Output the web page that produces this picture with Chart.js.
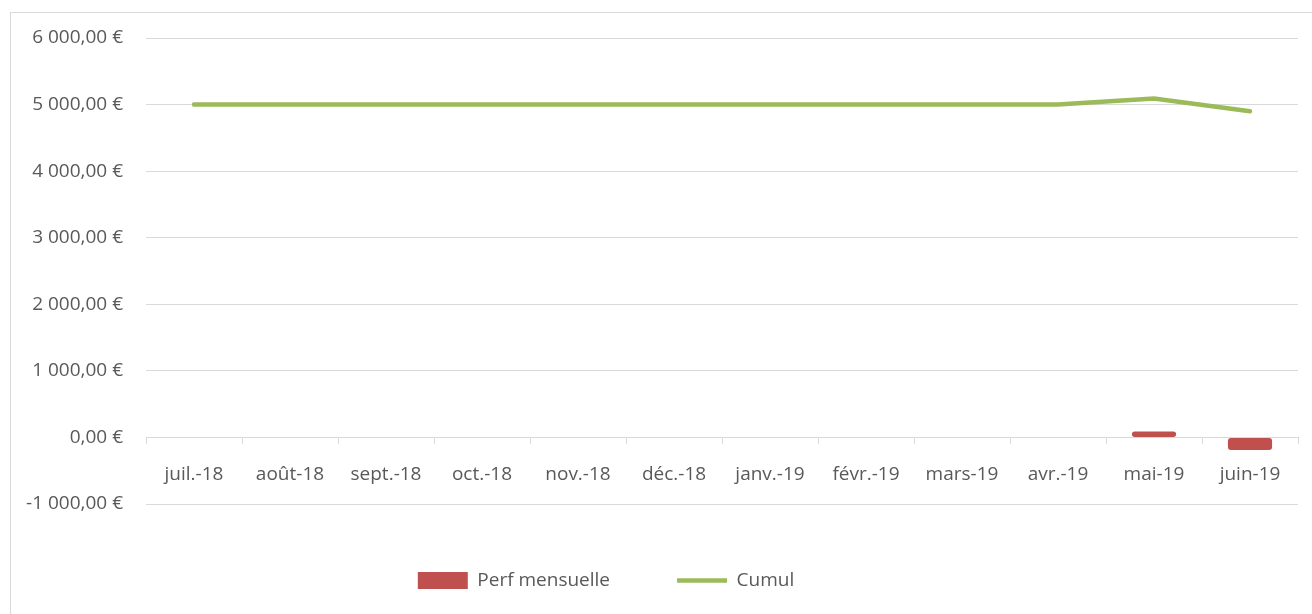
<!DOCTYPE html>
<html>
<head>
<meta charset="utf-8">
<script src="https://cdn.jsdelivr.net/npm/chart.js@4/dist/chart.umd.min.js"></script>
<style>
  html, body { margin: 0; padding: 0; background: #fff; overflow: hidden; }
  #frame { position: absolute; left: 10px; top: 12px; width: 1320px; height: 620px; border: 1px solid #D9D9D9; box-sizing: border-box; }
  #wrap { position: absolute; left: 0; top: 0; width: 1312px; height: 614px; }
</style>
</head>
<body>
<div id="frame"></div>
<div id="wrap"><canvas id="chart"></canvas></div>
<script>
const months = ["juil.-18", "août-18", "sept.-18", "oct.-18", "nov.-18", "déc.-18",
                "janv.-19", "févr.-19", "mars-19", "avr.-19", "mai-19", "juin-19"];
const perfMensuelle = [0, 0, 0, 0, 0, 0, 0, 0, 0, 0, 90, -190];
const cumul = [5000, 5000, 5000, 5000, 5000, 5000, 5000, 5000, 5000, 5000, 5090, 4900];
const yMin = -1000, yMax = 6000, yStep = 1000;

function euro(v) {
    const neg = v < 0;
    const parts = Math.abs(v).toFixed(2).split(".");
    const ent = parts[0].replace(/\B(?=(\d{3})+(?!\d))/g, " ");
    return (neg ? "-" : "") + ent + "," + parts[1] + " €";
}

const txt = "#595959";
const grid = "#D9D9D9";
Chart.defaults.font.family = "'Open Sans', sans-serif";
Chart.defaults.font.size = 19;
Chart.defaults.color = txt;

// the legend sits a bit left of centre in the original
const legendShift = {
    id: "legendShift",
    afterLayout(chart) {
        chart.legend.right -= 86;
    }
};

new Chart(document.getElementById("chart"), {
    type: "bar",
    data: {
        labels: months,
        datasets: [
            {
                label: "Perf mensuelle",
                data: perfMensuelle,
                backgroundColor: "#C0504D",
                borderRadius: 3,
                borderSkipped: false,
                barPercentage: 0.46,
                categoryPercentage: 1,
                pointStyle: "rect",
                order: 2
            },
            {
                type: "line",
                label: "Cumul",
                data: cumul,
                borderColor: "#9BBB59",
                backgroundColor: "#9BBB59",
                borderWidth: 4.5,
                borderCapStyle: "round",
                pointRadius: 0,
                tension: 0,
                pointStyle: "line",
                order: 1
            }
        ]
    },
    options: {
        responsive: true,
        maintainAspectRatio: false,
        animation: false,
        layout: { padding: { top: 38, right: 14, left: 0, bottom: 14 } },
        plugins: {
            tooltip: { enabled: false },
            legend: {
                position: "bottom",
                labels: {
                    usePointStyle: true,
                    pointStyleWidth: 50,
                    boxHeight: 17,
                    padding: 67,
                    color: txt,
                    font: { size: 19 },
                    sort: (a, b) => a.datasetIndex - b.datasetIndex
                }
            }
        },
        scales: {
            x: {
                position: { y: 0 },
                offset: true,
                grid: {
                    offset: true,
                    drawOnChartArea: false,
                    drawTicks: true,
                    tickLength: 6,
                    color: grid
                },
                border: { display: true, color: grid, width: 1 },
                ticks: { padding: 20, maxRotation: 0, autoSkip: false, color: txt }
            },
            y: {
                min: yMin,
                max: yMax,
                ticks: { stepSize: yStep, padding: 23, color: txt, callback: v => euro(v) },
                grid: { color: grid, drawTicks: false },
                border: { display: false },
                afterFit: s => { s.width = 146; }
            }
        }
    },
    plugins: [legendShift]
});
</script>
</body>
</html>
